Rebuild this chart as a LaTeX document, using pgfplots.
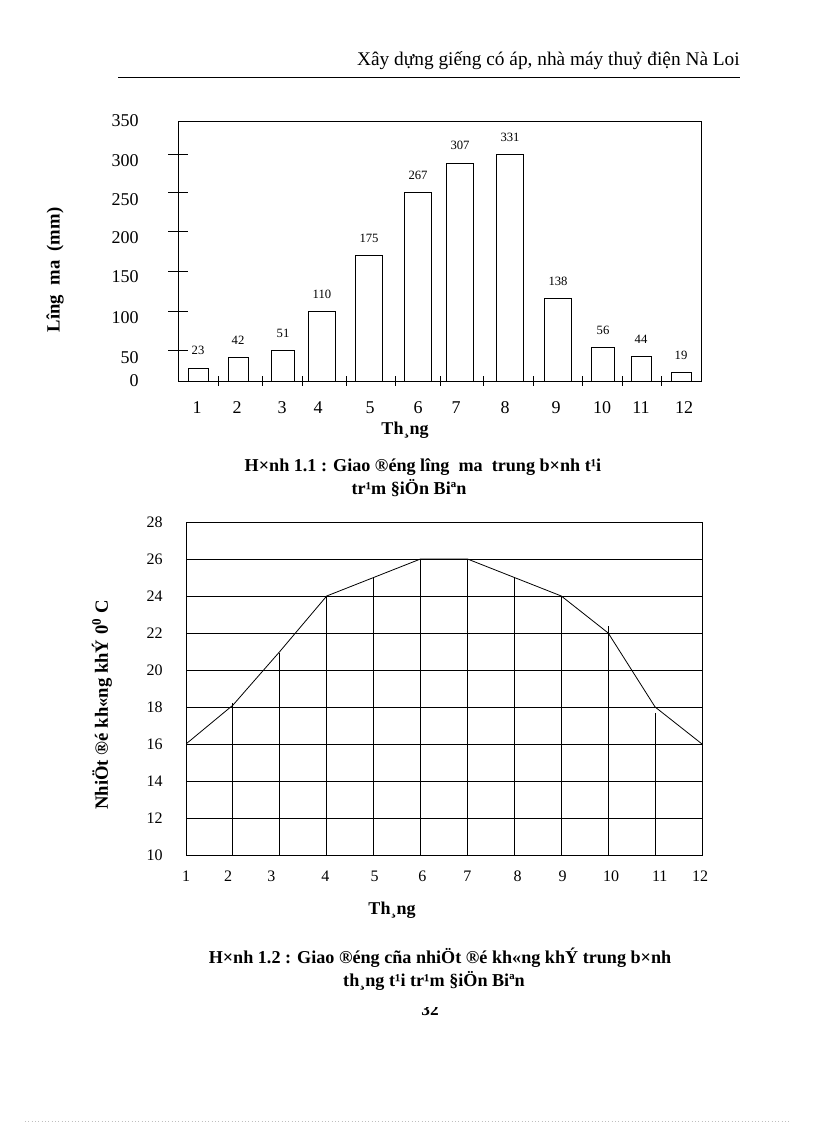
\documentclass[border=0pt]{standalone}
\usepackage{fontspec}
\setmainfont{Liberation Serif}
\usepackage{pgfplots}
\pgfplotsset{compat=1.18}
\begin{document}
\begin{tikzpicture}[x=0.75pt,y=0.75pt]
\path[use as bounding box] (0,0) rectangle (816,1123);
% header
\node[anchor=base east, inner sep=0pt, font=\fontsize{14.5}{16}\selectfont] at (740,1057) {Xây dựng giếng có áp, nhà máy thuỷ điện Nà Loi};
\draw[line width=0.7pt] (118,1046) -- (740,1046);
% ---------- chart 1 ----------
\begin{axis}[
  at={(133.5pt,556.5pt)}, anchor=south west,
  scale only axis, width=392.25pt, height=195pt,
  xmin=178, xmax=701, ymin=0, ymax=345,
  axis line style={line width=0.6pt},
  xtick={197,237,282,318,370,418,456,505,556,602,641,684},
  xticklabels={1,2,3,4,5,6,7,8,9,10,11,12},
  ytick={1,31,84,139,190,241,293,345},
  yticklabels={0,50,100,150,200,250,300,350},
  major tick length=0pt,
  extra x ticks={218,262,302,346,395,440,483,533,582,622,661},
  extra x tick labels={,,,,,,,,,,},
  extra x tick style={major tick length=7pt, tick align=center},
  extra y ticks={40,93,146,198,250,300},
  extra y tick labels={,,,,,},
  extra y tick style={major tick length=15pt, tick align=center},
  xtick pos=lower, ytick pos=left,
  tick style={black, line width=0.6pt},
  ticklabel style={font=\fontsize{13.5}{15}\selectfont},
  /pgf/number format/assume math mode=true,
  yticklabel style={xshift=-26pt},
  xticklabel style={yshift=-12pt},
  nodes near coords,
  point meta=explicit symbolic,
  every node near coord/.append style={font=\fontsize{9.5}{10}\selectfont, yshift=6pt},
]
\addplot[ybar, bar shift=0pt, bar width=20, fill=white, draw=black, line width=0.6pt]
  coordinates {(198,17.3)[23] (238,31.8)[42] (641,33.2)[44] (681,11.9)[19]};
\addplot[ybar, bar shift=0pt, bar width=23, fill=white, draw=black, line width=0.6pt]
  coordinates {(283,41.1)[51] (603,45.1)[56]};
\addplot[ybar, bar shift=0pt, bar width=27.5, fill=white, draw=black, line width=0.6pt]
  coordinates {(322,92.9)[110] (369,167.2)[175] (418,250.8)[267] (460,289.3)[307] (510,301.2)[331] (558,110.1)[138]};
\end{axis}
\node[rotate=90, font=\bfseries\fontsize{14}{16}\selectfont] at (55,853) {Lîng\ \ ma\ \ (mm)};
\node[font=\bfseries\fontsize{13.5}{15}\selectfont] at (405,693) {Th¸ng};
\node[font=\bfseries\fontsize{13.6}{15}\selectfont] at (423,656) {H×nh 1.1 : Giao ®éng lîng\ \ ma\ \ trung b×nh t¹i};
\node[font=\bfseries\fontsize{13.6}{15}\selectfont] at (409,635) {tr¹m §iÖn Biªn};
% ---------- chart 2 ----------
\begin{axis}[
  at={(139.5pt,201pt)}, anchor=south west,
  scale only axis, width=387pt, height=249.75pt,
  xmin=1, xmax=12, ymin=10, ymax=28,
  axis line style={line width=0.6pt},
  ytick={10,12,...,28},
  ymajorgrids, grid style={black, line width=0.6pt},
  xtick={1,1.9,2.82,3.97,5.02,6.04,7.0,8.07,9.03,10.06,11.1,11.96},
  xticklabels={1,2,3,4,5,6,7,8,9,10,11,12},
  major tick length=0pt,
  ticklabel style={font=\fontsize{12}{14}\selectfont},
  /pgf/number format/assume math mode=true,
  yticklabel style={xshift=-14pt},
  xticklabel style={yshift=-8.5pt},
]
\addplot[ycomb, black, line width=0.7pt, no markers]
  coordinates {(2,18.2) (3,20.9) (4,24) (5,25) (6,26) (7,26) (8,25) (9,24) (10,22.4) (11,17.7)};
\addplot[black, line width=0.6pt, no markers]
  coordinates {(1,16) (2,18.1) (3,21) (4,24) (5,25) (6,26) (7,26) (8,25) (9,24) (10,22) (11,18) (12,16)};
\end{axis}
\node[rotate=90, font=\bfseries\fontsize{14}{16}\selectfont] at (102,418) {NhiÖt ®é kh«ng khÝ 0\textsuperscript{0} C};
\node[font=\bfseries\fontsize{13.5}{15}\selectfont] at (392,213) {Th¸ng};
\node[font=\bfseries\fontsize{13.6}{15}\selectfont] at (440,165) {H×nh 1.2 : Giao ®éng cña nhiÖt ®é kh«ng khÝ trung b×nh};
\node[font=\bfseries\fontsize{13.6}{15}\selectfont] at (434,142) {th¸ng t¹i tr¹m §iÖn Biªn};
% page number, partly hidden
\node[font=\bfseries\fontsize{13}{15}\selectfont] at (430,113) {32};
\fill[white] (410,116) rectangle (450,132);
% bottom dotted line
\draw[gray!50, dotted, line width=0.5pt] (25,1.5) -- (791,1.5);
\end{tikzpicture}
\end{document}
